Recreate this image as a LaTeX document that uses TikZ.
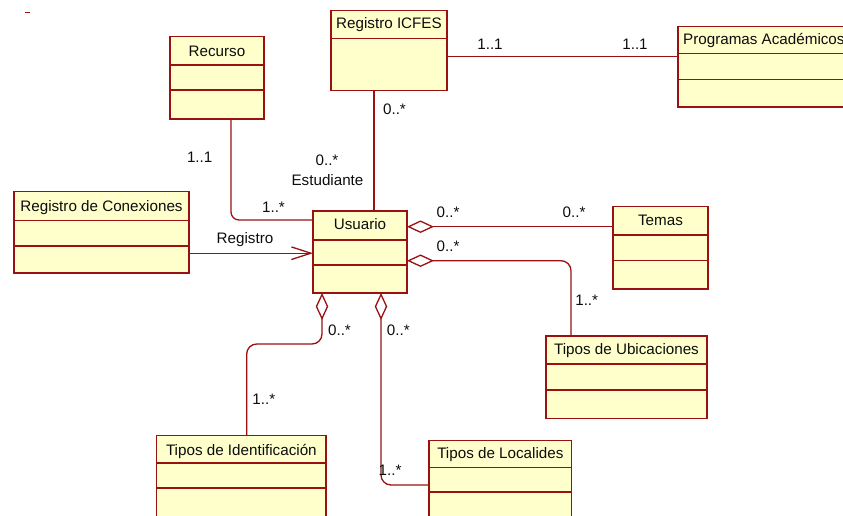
\documentclass[tikz,border=0pt]{standalone}
\usepackage{fontspec}
\setmainfont{Liberation Sans}
\usetikzlibrary{arrows.meta}
\definecolor{umlline}{RGB}{153,17,17}
\definecolor{umlfill}{RGB}{255,255,204}

% class box: name, x, y, width, height, title, divider 1, divider 2 (offsets from top), title baseline offset
\newcommand\umlclass[9]{%
  \node[classbox, minimum width=#4pt, minimum height=#5pt] (#1) at (#2,#3) {};
  \draw[divider] ([yshift=-#7pt]#1.north west) -- ([yshift=-#7pt]#1.north east);
  \if\relax\detokenize{#8}\relax\else
    \draw[divider] ([yshift=-#8pt]#1.north west) -- ([yshift=-#8pt]#1.north east);
  \fi
  \node[anchor=base] (#1-title) at ([yshift=-#9pt]#1.north) {#6};
}

\begin{document}
\begin{tikzpicture}[x=1pt,y=-1pt,
  every node/.style={font=\fontsize{15.2}{17}\selectfont, inner sep=0pt, text=black!95},
  classbox/.style={draw=umlline, fill=umlfill, line width=1.3pt, rectangle,
    anchor=north west, inner sep=0pt, outer sep=0pt},
  divider/.style={draw=umlline, line width=1.3pt},
  assoc/.style={draw=umlline, line width=1.3pt},
  agg/.style={assoc, {Diamond[fill=white, length=27pt, width=12.5pt]}-},
  nav/.style={assoc, -{Straight Barb[length=19.5pt, width=12.6pt]}},
  mult/.style={anchor=base},
]
\path[use as bounding box] (0,0) rectangle (843,515);
\clip (0,0) rectangle (843,515);

% stray mark
\draw[assoc] (25,12.7) -- (30,12.7);

% classes
\umlclass{recurso}{170}{36.5}{94}{82.5}{Recurso}{28.5}{53.5}{19.5}
\umlclass{icfes}{331}{10.7}{116}{80}{Registro ICFES}{28}{}{17.3}
\umlclass{conex}{14}{191.7}{175}{81.3}{Registro de Conexiones}{29}{54.3}{19.3}
\umlclass{usuario}{313}{211}{94}{82}{Usuario}{29}{54}{18.3}
\umlclass{temas}{613}{206.7}{95}{82.3}{Temas}{28.3}{54}{18.6}
\umlclass{ubic}{546}{336}{161}{82.7}{Tipos de Ubicaciones}{28}{54}{18.7}
\umlclass{ident}{156.7}{435.7}{169.3}{95}{Tipos de Identificación}{27.3}{52.3}{19.3}
\umlclass{local}{429}{440.7}{142.7}{95}{Tipos de Localides}{27}{51.3}{18}

% wide class whose title runs past the right edge
\node[classbox, minimum width=190pt, minimum height=80.3pt] (prog) at (678,26.7) {};
\draw[divider] ([yshift=-26.5pt]prog.north west) -- ([yshift=-26.5pt]prog.north east);
\draw[divider] ([yshift=-52.5pt]prog.north west) -- ([yshift=-52.5pt]prog.north east);
\node[anchor=base west] (prog-title) at ([xshift=5pt,yshift=-17.3pt]prog.north west) {Programas Académicos};

% associations
\coordinate (c1) at ([yshift=-46pt]icfes.north east);
\draw[assoc] (c1) -- (c1 -| prog.west);

\coordinate (c2) at ([xshift=43pt]icfes.south west);
\draw[assoc] (c2) -- (c2 |- usuario.north);

\coordinate (c3) at ([xshift=61pt]recurso.south west);
\coordinate (c3b) at ([yshift=-9pt]usuario.north west);
\draw[assoc, rounded corners=8pt] (c3) |- (c3b);

\coordinate (c4) at ([yshift=-61.5pt]conex.north east);
\draw[nav] (c4) -- (c4 -| usuario.west);

% aggregations from Usuario
\coordinate (c5) at ([yshift=-15.7pt]usuario.north east);
\draw[agg] (c5) -- (c5 -| temas.west);

\coordinate (c6) at ([yshift=-49.7pt]usuario.north east);
\coordinate (c6b) at ([xshift=25pt]ubic.north west);
\draw[agg, rounded corners=10pt] (c6) -| (c6b);

\coordinate (c7) at ([xshift=9pt]usuario.south west);
\coordinate (c7m) at ([yshift=-51pt]c7);
\coordinate (c7b) at ([xshift=90pt]ident.north west);
\draw[agg, rounded corners=10pt] (c7) -- (c7m) -| (c7b);

\coordinate (c8) at ([xshift=68pt]usuario.south west);
\coordinate (c8b) at ([yshift=-44.3pt]local.north west);
\draw[agg, rounded corners=10pt] (c8) |- (c8b);

% multiplicities and role names
\node[mult] (m1) at (490,49) {1..1};
\node[mult] (m2) at (635,49) {1..1};
\node[mult] (m3) at (394.5,114) {0..*};
\node[mult] (m4) at (327,165.7) {0..*};
\node[mult] (m5) at (327.5,185) {Estudiante};
\node[mult] (m6) at (199.7,162.3) {1..1};
\node[mult] (m7) at (273.5,212.7) {1..*};
\node[mult] (m8) at (245,243.5) {Registro};
\node[mult] (m9) at (448,217) {0..*};
\node[mult] (m10) at (574,217) {0..*};
\node[mult] (m11) at (448,251) {0..*};
\node[mult] (m12) at (586.7,305) {1..*};
\node[mult] (m13) at (339.5,335.7) {0..*};
\node[mult] (m14) at (398.3,335.7) {0..*};
\node[mult] (m15) at (263.8,404) {1..*};
\node[mult] (m16) at (390,475.7) {1..*};
\end{tikzpicture}
\end{document}
